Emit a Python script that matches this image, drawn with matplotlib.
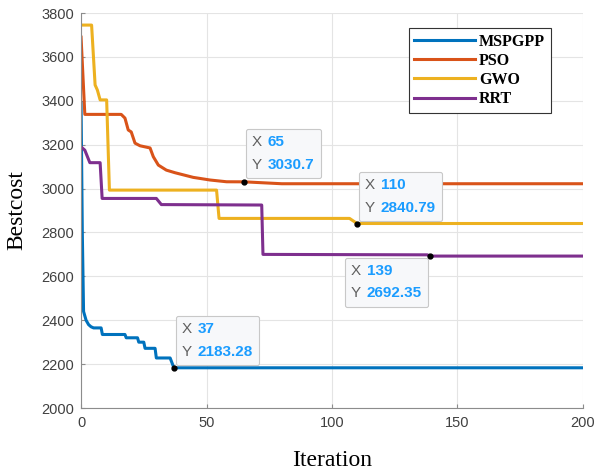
import matplotlib
matplotlib.use("Agg")
import matplotlib.pyplot as plt
from matplotlib.offsetbox import AnnotationBbox, TextArea, HPacker, VPacker

mspgpp_x = [0, 0.5, 1, 2, 3, 4, 5, 8, 8.5, 17.5, 18, 22.5, 23, 25, 25.5, 29.5, 30, 35.5, 37, 200]
mspgpp_y = [3390, 2800, 2440, 2400, 2380, 2370, 2365, 2365, 2335, 2335, 2320, 2320, 2300, 2300,
            2272, 2272, 2228, 2228, 2183.28, 2183.28]

pso_x = [0, 1.5, 16, 17.5, 18.8, 20, 21.5, 23.5, 27.5, 28.8, 30.8, 34, 37.5, 44.7, 51.4, 58, 65, 80, 200]
pso_y = [3690, 3338, 3338, 3321, 3267, 3258, 3207, 3195, 3185, 3145, 3107, 3084, 3072, 3051,
         3039, 3031, 3030.7, 3022, 3022]

gwo_x = [0, 4.2, 5.6, 6.5, 7.6, 10.2, 11.3, 54, 55, 107, 110, 200]
gwo_y = [3745, 3745, 3472, 3449, 3404, 3404, 2993, 2993, 2864, 2864, 2840.79, 2840.79]

rrt_x = [0, 1.5, 3.5, 7.6, 8.4, 30, 32, 72, 72.5, 138, 139, 200]
rrt_y = [3190, 3175, 3118, 3118, 2955, 2955, 2927, 2925, 2700, 2698, 2692.35, 2692.35]

names = ["MSPGPP", "PSO", "GWO", "RRT"]
colors = ["#0072BD", "#D95319", "#EDB120", "#7E2F8E"]

# data tips: (x, y, x text, y text, offset in pixels, box alignment)
tips = [(65, 3030.7, "65", "3030.7", (8, 10), (0, 0)),
        (110, 2840.79, "110", "2840.79", (8, 9), (0, 0)),
        (139, 2692.35, "139", "2692.35", (-8, -8), (1, 1)),
        (37, 2183.28, "37", "2183.28", (8, 9), (0, 0))]

fig = plt.figure(figsize=(5.96, 4.73), dpi=100)
ax = fig.add_axes([0.136, 0.1374, 0.842, 0.8351])

series = [(mspgpp_x, mspgpp_y), (pso_x, pso_y), (gwo_x, gwo_y), (rrt_x, rrt_y)]
for (xs, ys), name, c in zip(series, names, colors):
    ax.plot(xs, ys, color=c, lw=2.2, label=name)

ax.set_xlim(0, 200)
ax.set_ylim(2000, 3800)
ax.set_xticks(range(0, 201, 50))
ax.set_yticks(range(2000, 3801, 200))
ax.grid(True, color="#e4e4e4", lw=0.8)
ax.set_axisbelow(True)
for s in ["top", "right"]:
    ax.spines[s].set_visible(False)
for s in ["left", "bottom"]:
    ax.spines[s].set_color("#8c8c8c")
ax.tick_params(direction="in", length=3, color="#8c8c8c", labelcolor="#404040",
               labelsize=10.5)
ax.tick_params(axis="y", pad=5)
ax.tick_params(axis="x", pad=6)
for lab in ax.get_xticklabels() + ax.get_yticklabels():
    lab.set_family("Liberation Sans")

ax.set_xlabel("Iteration", family="Liberation Serif", fontsize=17, labelpad=14)
ax.set_ylabel("Bestcost", family="Liberation Serif", fontsize=17, labelpad=10)

leg = ax.legend(loc="upper right", bbox_to_anchor=(0.936, 0.962), borderaxespad=0,
                fancybox=False, framealpha=1, edgecolor="#333333", handlelength=3.8,
                handletextpad=0.25, labelspacing=0.2, borderpad=0.35,
                prop={"family": "Liberation Serif", "weight": "bold", "size": 11.5})
leg.get_frame().set_linewidth(0.8)

for x, y, xs, ys, off, align in tips:
    ax.plot(x, y, "o", color="black", ms=3.5, zorder=5)
    rows = []
    for k, v in [("X", xs), ("Y", ys)]:
        rows.append(HPacker(children=[
            TextArea(k, textprops=dict(color="#606060", fontsize=11, family="Liberation Sans")),
            TextArea(v, textprops=dict(color="#1a9cff", fontsize=11, family="Liberation Sans",
                                        weight="bold"))], pad=0, sep=4))
    box = VPacker(children=rows, pad=0, sep=6)
    ab = AnnotationBbox(box, (x, y), xybox=off, boxcoords="offset pixels",
                        box_alignment=align, frameon=True, pad=0.45,
                        bboxprops=dict(boxstyle="round,pad=0.45,rounding_size=0.15",
                                       facecolor="#f7f8fa", edgecolor="#c8c8c8", lw=0.8))
    ax.add_artist(ab)

fig.savefig("out.png", dpi=100)
